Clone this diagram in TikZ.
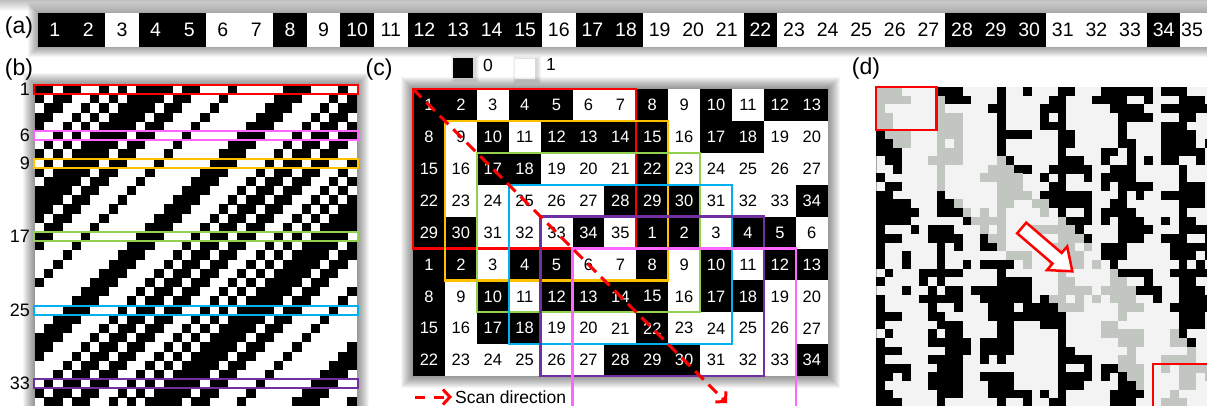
\documentclass[tikz,border=0pt]{standalone}
\usepackage{fontspec}
\setmainfont{Liberation Sans}
\usetikzlibrary{arrows.meta}
\definecolor{cRed}{HTML}{FF0000}
\definecolor{cOrange}{HTML}{FFC000}
\definecolor{cGreen}{HTML}{92D050}
\definecolor{cBlue}{HTML}{00B0F0}
\definecolor{cPurple}{HTML}{7030A0}
\definecolor{cPink}{HTML}{FF66FF}
\definecolor{dBg}{HTML}{F2F3F2}
\definecolor{dGray}{HTML}{C2C6C1}
\def\seqarr{{1,1,0,1,1,0,0,1,0,1,0,1,1,1,1,0,1,1,0,0,0,1,0,0,0,0,0,1,1,1,0,0,0,1,0}}
\newcommand\mkblk[2]{\expandafter\gdef\csname blk-#1-#2\endcsname{1}}
\newcommand\softshadow[5]{\foreach \kk in {1,...,#5}{\fill[black,opacity=0.04] ({#1-\kk},{#2-\kk}) rectangle ({#3+\kk},{#4+\kk});}}
\tikzset{
  plabel/.style={font=\fontsize{23}{24}\selectfont, inner sep=0pt},
  anum/.style={font=\fontsize{19.5}{20}\selectfont, inner sep=0pt},
  cnum/.style={font=\fontsize{16.5}{17}\selectfont, inner sep=0pt},
  rowlab/.style={font=\fontsize{18}{19}\selectfont, inner sep=0pt, anchor=east},
  legtext/.style={font=\fontsize{17.5}{18}\selectfont, inner sep=0pt},
  winbox/.style={line width=2.3pt},
  rowbox/.style={line width=2pt},
  scanline/.style={cRed, line width=3pt, dash pattern=on 12pt off 7pt, -{Straight Barb[length=7pt,width=15pt]}},
}
\begin{document}
\begin{tikzpicture}[x=1pt,y=-1pt]
\useasboundingbox (0,0) rectangle (1207,406);
\fill[white] (0,0) rectangle (1207,406);
% top gradient
\foreach \kk in {0,...,10}{\fill[black,opacity=0.025] (0,0) rectangle (1207,{11-\kk});}

% ---------- (a) ----------
\node[plabel] (la) at (19,28) {(a)};
\softshadow{38}{13}{1214}{47}{10}
\foreach \ii in {1,...,35}{
  \pgfmathtruncatemacro\vv{\seqarr[\ii-1]}
  \pgfmathsetmacro\xx{38+(\ii-1)*33.6}
  \ifnum\vv=1 \def\fillc{black}\def\textc{white}\else\def\fillc{white}\def\textc{black}\fi
  \fill[\fillc] (\xx,13) rectangle ++(33.65,34);
  \pgfmathsetmacro\xc{\ii==35 ? 1192 : \xx+16.8}
  \node[anum,text=\textc] (a\ii) at (\xc,30) {\ii};
}

% ---------- (b) ----------
\node[plabel] (lb) at (19,70) {(b)};
\softshadow{35}{85}{356.6}{406.6}{12}
\fill[white] (35,85) rectangle (356.6,406.6);
\foreach \ri in {1,...,35}{
  \foreach \ci in {1,...,35}{
    \pgfmathtruncatemacro\kx{mod(\ri+\ci-2,35)}
    \pgfmathtruncatemacro\vv{\seqarr[\kx]}
    \ifnum\vv=1 \fill[black] ({35+(\ci-1)*9.19},{85+(\ri-1)*9.19}) rectangle ++(9.25,9.25);\fi
  }
}
\foreach \ri/\cl in {1/cRed,6/cPink,9/cOrange,17/cGreen,25/cBlue,33/cPurple}{
  \draw[\cl, rowbox] (34,{85+(\ri-1)*9.19}) rectangle (357.6,{85+\ri*9.19});
  \node[rowlab] (bl\ri) at (30,{85+(\ri-0.5)*9.19}) {\ri};
}

% ---------- (c) ----------
\node[plabel] (lc) at (379,70) {(c)};
\softshadow{454.5}{59.5}{474.5}{79.5}{4}
\fill[black] (453,58) rectangle (473,78);
\node[legtext] (l0) at (488,65) {0};
\softshadow{516.5}{60.5}{536.5}{80.5}{4}
\fill[white] (515,59) rectangle (535,79);
\node[legtext] (l1) at (551,64) {1};

\softshadow{413}{89}{828}{376}{12}
\foreach \ri in {1,...,9}{
  \foreach \ci in {1,...,13}{
    \pgfmathtruncatemacro\nn{mod(7*(\ri-1)+\ci-1,35)+1}
    \pgfmathtruncatemacro\vv{\seqarr[\nn-1]}
    \ifnum\vv=1 \def\fillc{black}\def\textc{white}\else\def\fillc{white}\def\textc{black}\fi
    \fill[\fillc] ({413+(\ci-1)*31.9},{89+(\ri-1)*31.9}) rectangle ++(31.95,31.95);
    \node[cnum,text=\textc] (c\ri-\ci) at ({413+(\ci-0.5)*31.9},{89+(\ri-0.5)*31.9}) {\nn};
  }
}
\foreach \kx/\cl in {0/cRed,1/cOrange,2/cGreen,3/cBlue,4/cPurple,5/cPink}{
  \draw[\cl, winbox] ({413+\kx*31.9},{89+\kx*31.9}) rectangle ++(223.3,159.5);
}
\coordinate (scanA) at (413,89);
\coordinate (scanB) at (727,403);
\draw[scanline] (scanA) -- (scanB);
\coordinate (legA) at (415,397);
\coordinate (legB) at (452,397);
\draw[scanline, dash pattern=on 10pt off 9pt] (legA) -- (legB);
\node[legtext, anchor=west] (scantxt) at (455,397) {Scan direction};

% ---------- (d) ----------
\node[plabel] (ld) at (866,69) {(d)};
\fill[dBg] (876,87) rectangle (1210,410);
\draw[black!35, line width=0.8pt] (876,87) -- (876,410);
\pgfmathsetseed{5171}
\foreach \ri in {0,...,37}{
  \foreach \tk in {0,7,14,21,28,35}{
    \pgfmathtruncatemacro\ff{rnd<0.9}
    \ifnum\ff=1 \mkblk{\ri}{\tk}\fi
    \pgfmathtruncatemacro\ff{rnd<0.55}
    \ifnum\ff=1
      \pgfmathtruncatemacro\LL{1+int(2.99*rnd)}
      \foreach \jj in {1,...,\LL}{\pgfmathtruncatemacro\cx{\tk+\jj}\mkblk{\ri}{\cx}}
      \pgfmathtruncatemacro\ff{rnd<0.55}
      \ifnum\ff=1 \pgfmathtruncatemacro\cx{\tk+\LL}\pgfmathtruncatemacro\rx{\ri+1}\mkblk{\rx}{\cx}\fi
    \fi
    \pgfmathtruncatemacro\ff{rnd<0.4}
    \ifnum\ff=1
      \pgfmathtruncatemacro\LL{1+int(1.99*rnd)}
      \foreach \jj in {1,...,\LL}{\pgfmathtruncatemacro\cx{\tk-\jj}\mkblk{\ri}{\cx}}
      \pgfmathtruncatemacro\ff{rnd<0.5}
      \ifnum\ff=1 \pgfmathtruncatemacro\cx{\tk-\LL}\pgfmathtruncatemacro\rx{\ri+1}\mkblk{\rx}{\cx}\fi
    \fi
  }
}
\foreach \ri in {0,...,36}{
  \foreach \ci in {0,...,38}{
    \pgfmathtruncatemacro\ff{rnd<0.08}
    \ifcsname blk-\ri-\ci\endcsname \def\ff{1}\fi
    \ifnum\ff=1
      \pgfmathtruncatemacro\dd{\ci-\ri}
      \def\fillc{black}
      \ifnum\dd>-5 \ifnum\dd<7 \def\fillc{dGray}\fi\fi
      \fill[\fillc] ({876+\ci*8.65},{87+\ri*8.65}) rectangle ++(8.72,8.72);
    \fi
  }
}
\draw[cRed, line width=2.5pt] (876,87) rectangle ++(60.55,43.25);
\draw[cRed, line width=2.5pt] (1152.8,363.8) rectangle ++(60.55,43.25);
\draw[cRed, line width=2.5pt, fill=white, line join=miter]
  (1026.25,222.68) -- (1061.65,252.98) -- (1067.18,246.52) -- (1072.3,271.3)
  -- (1047.02,270.08) -- (1052.55,263.62) -- (1017.15,233.32) -- cycle;
\end{tikzpicture}
\end{document}
